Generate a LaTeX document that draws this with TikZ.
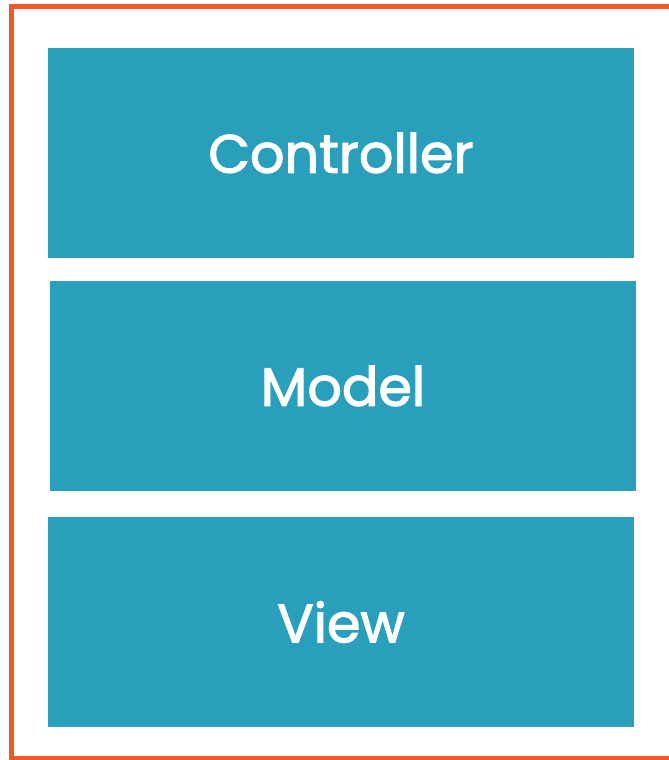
\documentclass[tikz,border=0pt]{standalone}
\usepackage{fontspec}
\setmainfont{Poppins}[FakeBold=2]
\definecolor{layerteal}{HTML}{2A9FBC}
\definecolor{frameorange}{HTML}{F05A28}
\tikzset{
  layer/.style={fill=layerteal, draw=none, text=white, inner sep=0pt,
    minimum width=586pt, minimum height=210pt,
    font=\fontsize{54}{64}\selectfont}
}
\begin{document}
\begin{tikzpicture}[x=1pt,y=-1pt]
\useasboundingbox (0,0) rectangle (669,760);
\draw[frameorange, line width=5pt] (11.5,6.5) rectangle (675,758.5);
\node[layer] (controller) at (341,153) {Controller};
\node[layer] (model) at (343,386) {Model};
\node[layer] (view) at (341,622) {View};
\end{tikzpicture}
\end{document}
